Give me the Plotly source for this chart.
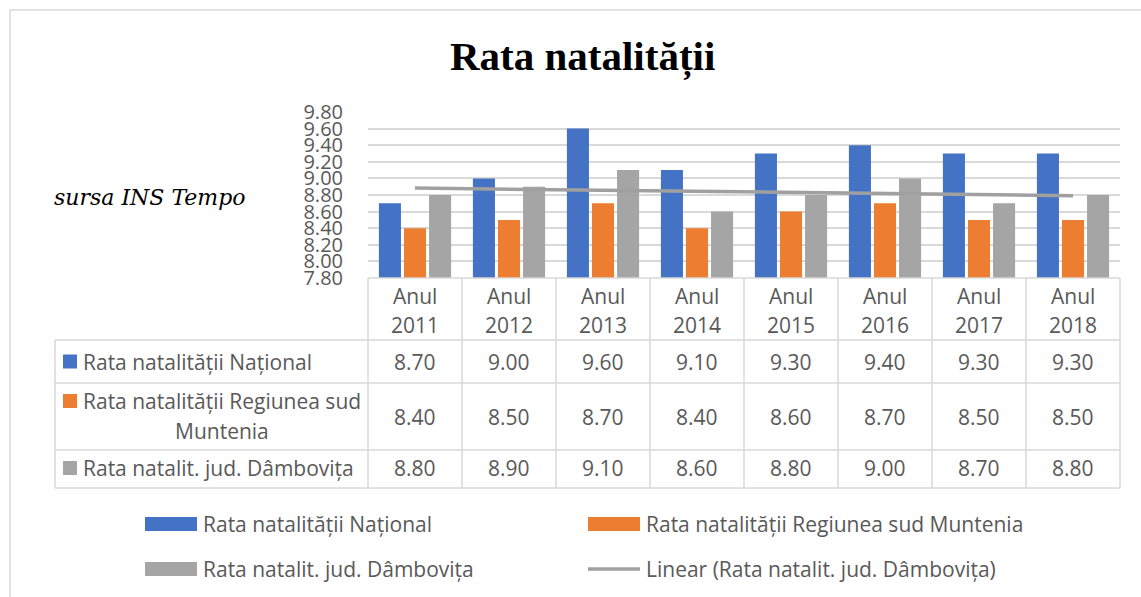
import numpy as np
import plotly.graph_objects as go

years = ["2011", "2012", "2013", "2014", "2015", "2016", "2017", "2018"]
categories = ["Anul " + y for y in years]
national = [8.70, 9.00, 9.60, 9.10, 9.30, 9.40, 9.30, 9.30]
muntenia = [8.40, 8.50, 8.70, 8.40, 8.60, 8.70, 8.50, 8.50]
dambovita = [8.80, 8.90, 9.10, 8.60, 8.80, 9.00, 8.70, 8.80]
series_names = ["Rata natalității Național",
                "Rata natalității Regiunea sud Muntenia",
                "Rata natalit. jud. Dâmbovița"]
trend_name = "Linear (Rata natalit. jud. Dâmbovița)"
colors = ["#4472C4", "#ED7D31", "#A5A5A5"]
trend_color = "#A0A0A0"

# linear trend from the data
xi = np.arange(1, len(dambovita) + 1)
k, b0 = np.polyfit(xi, dambovita, 1)
trend = k * xi + b0

W, H = 1141, 597
L, R, T, B = 368, 1120, 112, 278


def px(x):
    return (x - L) / (R - L)


def py(y):
    return (B - y) / (B - T)


TXT = "#595959"
GRID = "#D9D9D9"
FONT = "Open Sans"
FS = 21

fig = go.Figure()
for name, vals, col in zip(series_names, [national, muntenia, dambovita], colors):
    fig.add_trace(go.Bar(x=categories, y=vals, name=name, marker_color=col,
                         marker_line_width=0, showlegend=False))
fig.add_trace(go.Scatter(x=categories, y=trend, mode="lines", name=trend_name,
                         line=dict(color=trend_color, width=3.5), showlegend=False))

shapes = []
annotations = []


def hline(x0, x1, y):
    shapes.append(dict(type="line", xref="paper", yref="paper", x0=px(x0), x1=px(x1),
                       y0=py(y), y1=py(y), line=dict(color=GRID, width=1.5), layer="above"))


def vline(x, y0, y1):
    shapes.append(dict(type="line", xref="paper", yref="paper", x0=px(x), x1=px(x),
                       y0=py(y0), y1=py(y1), line=dict(color=GRID, width=1.5), layer="above"))


def text(x, y, s, size=FS, xanchor="center", color=TXT, family=FONT):
    annotations.append(dict(xref="paper", yref="paper", x=px(x), y=py(y), text=s,
                            showarrow=False, xanchor=xanchor, yanchor="middle",
                            font=dict(size=size, color=color, family=family)))


# outer frame
shapes.append(dict(type="rect", xref="paper", yref="paper", x0=px(10), x1=px(1145),
                   y0=py(10), y1=py(600), line=dict(color=GRID, width=1.5)))

# data table geometry
col_edges = [L + i * (R - L) / len(years) for i in range(len(years) + 1)]
row_y = [340, 383, 450, 488]
hline(L, R, B)
for y in row_y:
    hline(55, R, y)
for x in col_edges:
    vline(x, B, 488)
vline(55, 340, 488)

# header
for i, yr in enumerate(years):
    cx = (col_edges[i] + col_edges[i + 1]) / 2
    text(cx, 296, "Anul")
    text(cx, 325, yr)

# rows
row_centers = [361.5, 416.5, 468]
for r, vals in enumerate([national, muntenia, dambovita]):
    for i, v in enumerate(vals):
        cx = (col_edges[i] + col_edges[i + 1]) / 2
        text(cx, row_centers[r], f"{v:.2f}")

# left column labels with square keys
sq = 14
key_y = [361.5, 401, 468]
for r, (name, col) in enumerate(zip(series_names, colors)):
    shapes.append(dict(type="rect", xref="paper", yref="paper", x0=px(63), x1=px(63 + sq),
                       y0=py(key_y[r] - sq / 2), y1=py(key_y[r] + sq / 2),
                       fillcolor=col, line=dict(width=0)))
text(81, 361.5, series_names[0], xanchor="left")
text(81, 401, "Rata natalității Regiunea sud", xanchor="left")
text(222, 431, "Muntenia")
text(81, 468, series_names[2], xanchor="left")

# legend (manual)
leg = [(145, 524, series_names[0], colors[0], "bar"),
       (588, 524, series_names[1], colors[1], "bar"),
       (145, 569, series_names[2], colors[2], "bar"),
       (588, 569, trend_name, trend_color, "line")]
for x0, y0, name, col, kind in leg:
    if kind == "bar":
        shapes.append(dict(type="rect", xref="paper", yref="paper", x0=px(x0), x1=px(x0 + 52),
                           y0=py(y0 - 7), y1=py(y0 + 7), fillcolor=col, line=dict(width=0)))
    else:
        shapes.append(dict(type="line", xref="paper", yref="paper", x0=px(x0), x1=px(x0 + 52),
                           y0=py(y0), y1=py(y0), line=dict(color=col, width=3.5)))
    text(x0 + 56, y0, name, size=21, xanchor="left")

# title and source note
text(582, 56, "<b>Rata natalității</b>", size=41, color="#000000", family="Liberation Serif")
text(150, 197, "<i>sursa INS Tempo</i>", size=22, color="#000000", family="DejaVu Serif")

fig.update_layout(
    width=W, height=H,
    margin=dict(l=L, r=W - R, t=T, b=H - B),
    paper_bgcolor="white", plot_bgcolor="white",
    barmode="group", bargap=0.2, bargroupgap=0.12,
    showlegend=False,
    shapes=shapes, annotations=annotations,
    font=dict(family=FONT, color=TXT),
    xaxis=dict(showticklabels=False, showgrid=False, zeroline=False, showline=False,
               ticks=""),
    yaxis=dict(range=[7.8, 9.8], dtick=0.2, tick0=7.8, tickformat=".2f",
               showgrid=True, gridcolor=GRID, gridwidth=1.5, zeroline=False,
               showline=False, ticks="outside", ticklen=20, tickcolor="rgba(0,0,0,0)",
               tickfont=dict(size=20, color=TXT, family=FONT)),
)

fig.write_html("out.html", config={"displayModeBar": False},
               post_script="document.body.style.margin='0px';document.body.style.overflow='hidden';")
